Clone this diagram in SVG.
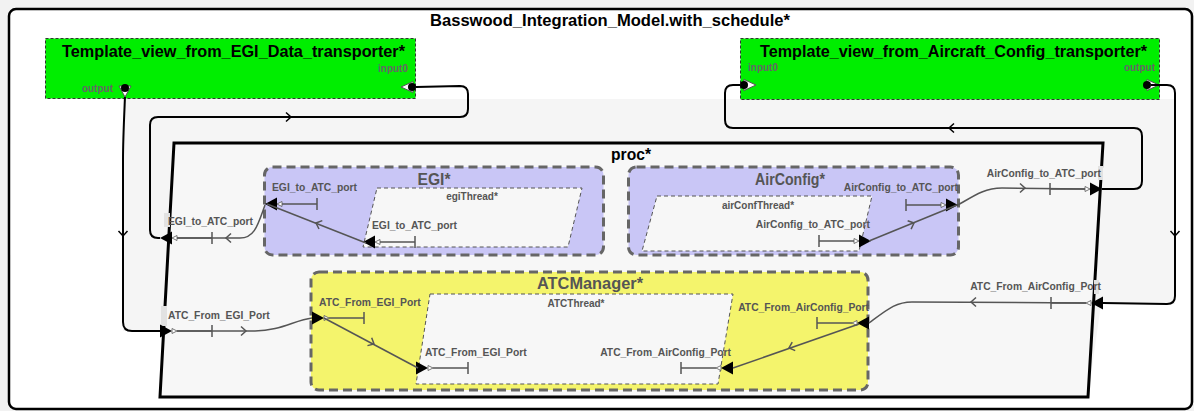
<svg xmlns="http://www.w3.org/2000/svg" width="1194" height="411" viewBox="0 0 1194 411">
<defs>
<style>
text{font-family:"Liberation Sans",Arial,sans-serif;font-weight:bold}
.ttl{font-size:17px;fill:#000}
.hdr{font-size:17px;fill:#555}
.pl{font-size:10.3px;fill:#555}
.tl{font-size:10px;fill:#555}
.gl{font-size:10px;fill:#666}
.comp{stroke:#666;stroke-width:3;stroke-dasharray:9 5}
.thr{fill:#f7f7f7;stroke:#555;stroke-width:1;stroke-dasharray:4 3}
.green{fill:#00ee00;stroke:#333;stroke-width:1;stroke-dasharray:3 2}
.ext{fill:none;stroke:#000;stroke-width:2}
.int{fill:none;stroke:#555;stroke-width:1.5}
.chk{fill:none;stroke:#000;stroke-width:1.5}
.chg{fill:none;stroke:#555;stroke-width:1.5}
.lbg{fill:#e2e2e2}
</style>
<path id="chev" d="M-5,-4.5 L0,0 L-5,4.5"/>
<g id="pIn">
<polygon points="0,-6.5 12,0 0,6.5" fill="#000"/>
<polygon points="12,-2.5 17,0 12,2.5" fill="#fff" stroke="#555" stroke-width="0.8"/>
<path d="M17,0 H52 M52,-6 V6" stroke="#555" stroke-width="1.5" fill="none"/>
</g>
<g id="pOut">
<polygon points="0,0 12,-6.5 12,6.5" fill="#000"/>
<polygon points="12,0 17,-2.5 17,2.5" fill="#fff" stroke="#555" stroke-width="0.8"/>
<path d="M17,0 H52 M52,-6 V6" stroke="#555" stroke-width="1.5" fill="none"/>
</g>
</defs>

<rect x="0" y="0" width="1194" height="411" fill="#f2f2f2"/>

<g id="Basswood_Integration_Model">
<rect x="9" y="9" width="1183" height="400" rx="7" fill="#fff" stroke="#000" stroke-width="2.5"/>
<polygon points="123,99 1175,99 1175,304 1101,304 1088,397 160,397 164,331 123,331" fill="#f5f5f5"/>
<text class="ttl" x="610" y="26" text-anchor="middle" textLength="360" lengthAdjust="spacingAndGlyphs">Basswood_Integration_Model.with_schedule*</text>
</g>

<g id="Template_view_from_EGI_Data_transporter">
<rect class="green" x="45.5" y="38.5" width="370" height="60"/>
<text class="ttl" x="233.5" y="57" text-anchor="middle" textLength="343" lengthAdjust="spacingAndGlyphs">Template_view_from_EGI_Data_transporter*</text>
<text class="gl" x="408" y="72" text-anchor="end">input0</text>
<text class="gl" x="113" y="92" text-anchor="end">output</text>
<polygon points="119,86 131,86 125,97" fill="#fff" stroke="#555" stroke-width="1"/>
<circle cx="125" cy="88" r="4" fill="#000"/>
<polygon points="401,87 413,81.5 413,92.5" fill="#fff" stroke="#555" stroke-width="1"/>
<circle cx="412" cy="87" r="4" fill="#000"/>
</g>

<g id="Template_view_from_Aircraft_Config_transporter">
<rect class="green" x="740.5" y="38.5" width="419" height="61"/>
<text class="ttl" x="953.5" y="57" text-anchor="middle" textLength="387" lengthAdjust="spacingAndGlyphs">Template_view_from_Aircraft_Config_transporter*</text>
<text class="gl" x="748" y="71">input0</text>
<text class="gl" x="1155" y="71" text-anchor="end">output</text>
<polygon points="756,85 744,79.5 744,90.5" fill="#fff" stroke="#555" stroke-width="1"/>
<circle cx="744" cy="85" r="4" fill="#000"/>
<polygon points="1159,85 1147,79.5 1147,90.5" fill="#fff" stroke="#555" stroke-width="1"/>
<circle cx="1147" cy="85" r="4" fill="#000"/>
</g>

<g id="proc">
<polygon points="174,143 1103,143 1088,397 160,397" fill="#f7f7f7" stroke="#000" stroke-width="3" stroke-linejoin="miter"/>
<text class="ttl" x="631" y="160" text-anchor="middle" textLength="40" lengthAdjust="spacingAndGlyphs">proc*</text>
<rect class="lbg" x="164" y="213" width="6" height="14"/>
<rect class="lbg" x="161" y="306" width="6" height="20"/>
<rect class="lbg" x="1098" y="166" width="5" height="14"/>
<rect class="lbg" x="1094" y="280" width="5" height="14"/>
<text class="pl" x="168" y="225">EGI_to_ATC_port</text>
<text class="pl" x="168" y="319">ATC_From_EGI_Port</text>
<text class="pl" x="1101" y="177" text-anchor="end">AirConfig_to_ATC_port</text>
<text class="pl" x="1101" y="290" text-anchor="end">ATC_From_AirConfig_Port</text>
<use href="#pOut" transform="translate(160,238)"/>
<use href="#pIn" transform="translate(160,331)"/>
<use href="#pOut" transform="translate(1102,189) scale(-1,1)"/>
<use href="#pIn" transform="translate(1103,303) scale(-1,1)"/>
</g>

<g id="EGI">
<rect class="comp" x="264.5" y="167" width="339" height="88" rx="8" fill="#c9c6f6"/>
<text class="hdr" x="434" y="185" text-anchor="middle" textLength="33" lengthAdjust="spacingAndGlyphs">EGI*</text>
<text class="pl" x="272" y="191">EGI_to_ATC_port</text>
<use href="#pOut" transform="translate(265,204)"/>
</g>

<g id="egiThread">
<polygon class="thr" points="377,188 582,188 568,247 363,247"/>
<text class="tl" x="472" y="200" text-anchor="middle">egiThread*</text>
<text class="pl" x="372" y="229">EGI_to_ATC_port</text>
<use href="#pOut" transform="translate(363,242)"/>
</g>

<g id="AirConfig">
<rect class="comp" x="628.5" y="167" width="330" height="88" rx="8" fill="#c9c6f6"/>
<text class="hdr" x="790" y="185" text-anchor="middle" textLength="70" lengthAdjust="spacingAndGlyphs">AirConfig*</text>
<text class="pl" x="958" y="191" text-anchor="end">AirConfig_to_ATC_port</text>
<use href="#pOut" transform="translate(958,205) scale(-1,1)"/>
</g>

<g id="airConfThread">
<polygon class="thr" points="657,196 872,196 859,251 642,251"/>
<text class="tl" x="758" y="209" text-anchor="middle">airConfThread*</text>
<text class="pl" x="870" y="228" text-anchor="end">AirConfig_to_ATC_port</text>
<use href="#pOut" transform="translate(871,241) scale(-1,1)"/>
</g>

<g id="ATCManager">
<rect class="comp" x="311" y="272" width="557" height="118" rx="8" fill="#f4f46c"/>
<text class="hdr" x="590" y="289" text-anchor="middle" font-size="18" textLength="106" lengthAdjust="spacingAndGlyphs">ATCManager*</text>
<text class="pl" x="319" y="306">ATC_From_EGI_Port</text>
<text class="pl" x="869" y="311" text-anchor="end">ATC_From_AirConfig_Port</text>
<use href="#pIn" transform="translate(312,318)"/>
<use href="#pIn" transform="translate(869,323) scale(-1,1)"/>
</g>

<g id="ATCThread">
<polygon class="thr" points="430,294 733,294 718,384 416,384"/>
<text class="tl" x="576" y="307" text-anchor="middle">ATCThread*</text>
<text class="pl" x="425" y="356">ATC_From_EGI_Port</text>
<text class="pl" x="731" y="356" text-anchor="end">ATC_From_AirConfig_Port</text>
<use href="#pIn" transform="translate(416,368)"/>
<use href="#pIn" transform="translate(733,368) scale(-1,1)"/>
</g>

<g id="connectors">
<path class="ext" d="M125,97 C124,120 123,140 123,160 L123,322 Q123,331 132,331 L160,331"/>
<use href="#chev" class="chk" transform="translate(123,236) rotate(90)"/>
<path class="ext" d="M160,238 L158,238 Q150,238 150,230 L150,125 Q150,117 158,117 L460,117 Q468,117 468,109 L468,94 Q468,86 460,86 L416,87"/>
<use href="#chev" class="chk" transform="translate(291,117)"/>
<path class="ext" d="M1151,85 L1167,85 Q1175,85 1175,93 L1175,296 Q1175,304 1167,304 L1103,303"/>
<use href="#chev" class="chk" transform="translate(1175,236) rotate(90)"/>
<path class="ext" d="M1102,189 L1134,189 Q1142,189 1142,181 L1142,136 Q1142,128 1134,128 L733,128 Q725,128 725,120 L725,93 Q725,85 733,85 L740,85"/>
<use href="#chev" class="chk" transform="translate(949,128) rotate(180)"/>

<path class="int" d="M366,243 L267,204"/>
<use href="#chev" class="chg" transform="translate(316,223) rotate(201.5)"/>
<path class="int" d="M265,205 C258,224 255,238 240,238 L177,238"/>
<use href="#chev" class="chg" transform="translate(226,238) rotate(180)"/>

<path class="int" d="M869,241 L957,205"/>
<use href="#chev" class="chg" transform="translate(914,223) rotate(-22.5)"/>
<path class="int" d="M958,205 C975,195 985,188 1002,188 L1085,189"/>
<use href="#chev" class="chg" transform="translate(1025,188)"/>

<path class="int" d="M1086,303 L912,302 C896,302 888,309 869,323"/>
<use href="#chev" class="chg" transform="translate(971,302) rotate(180)"/>
<path class="int" d="M859,324 L733,368"/>
<use href="#chev" class="chg" transform="translate(789,348) rotate(160.7)"/>

<path class="int" d="M177,331 L255,331 C280,331 295,320 312,318"/>
<use href="#chev" class="chg" transform="translate(246,331)"/>
<path class="int" d="M324,318 L418,368"/>
<use href="#chev" class="chg" transform="translate(374,344) rotate(28)"/>
</g>
</svg>
